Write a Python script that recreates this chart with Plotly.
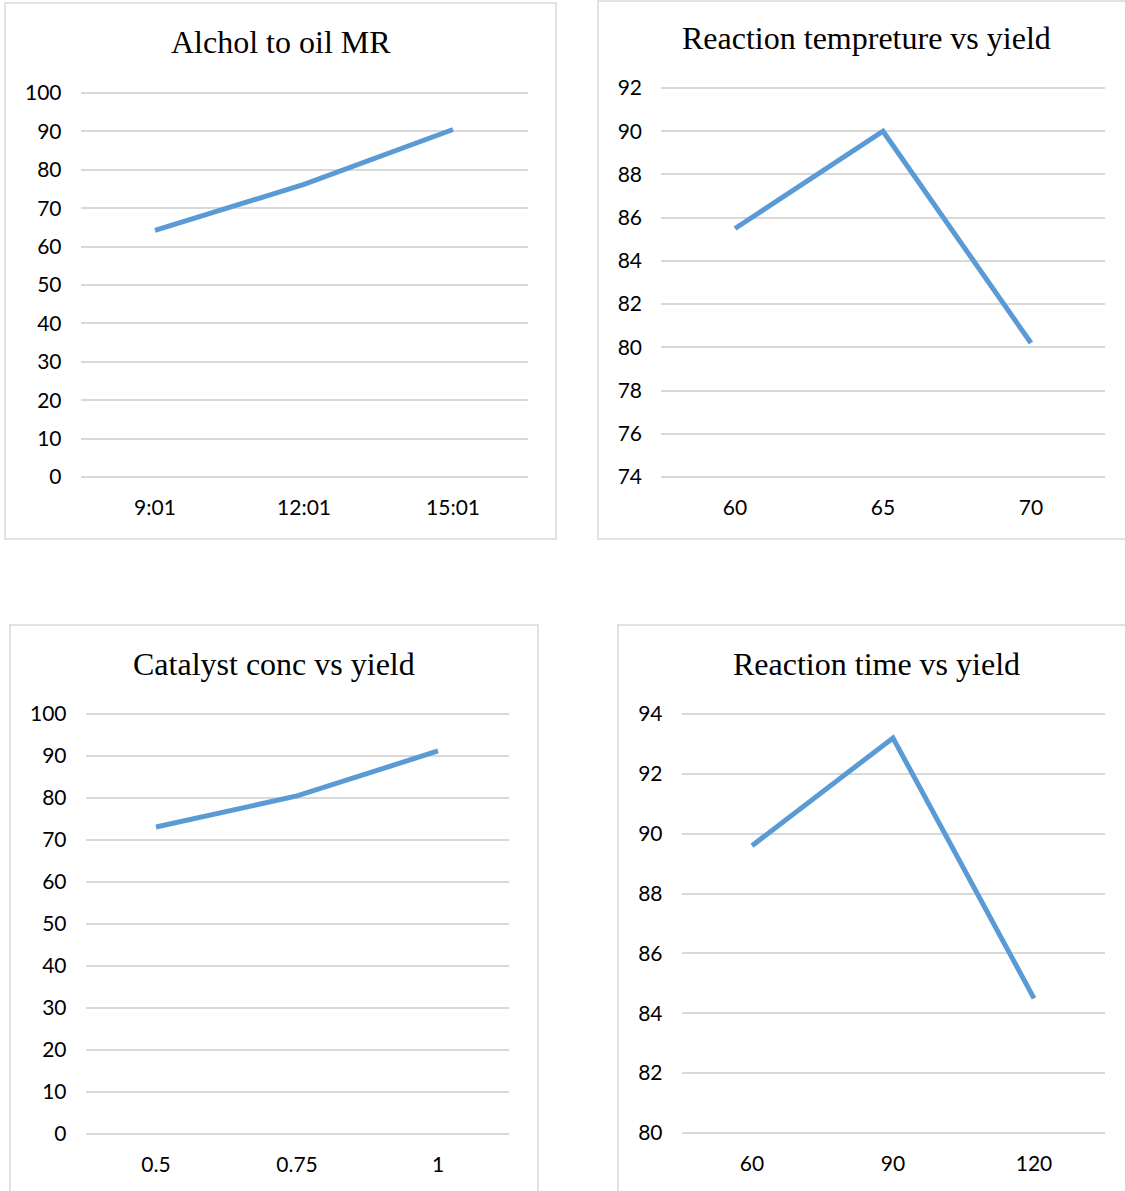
import plotly.graph_objects as go

W, H = 1125, 1191

# Chart data
mr_labels = ["9:01", "12:01", "15:01"]
mr_yield = [64.2, 76.2, 90.5]

temp_labels = ["60", "65", "70"]
temp_yield = [85.5, 90.0, 80.2]

cat_labels = ["0.5", "0.75", "1"]
cat_yield = [73.1, 80.5, 91.2]

time_labels = ["60", "90", "120"]
time_yield = [89.6, 93.2, 84.5]

titles = ["Alchol to oil MR", "Reaction tempreture vs yield",
          "Catalyst conc vs yield", "Reaction time vs yield"]

LINE = "#5b9bd5"
GRID = "#d9d9d9"
TICK_FONT = dict(family="Lato, Carlito, Calibri, sans-serif", size=21, color="#000000")
TITLE_FONT = dict(family="Liberation Serif, Times New Roman, serif", size=32, color="#000000")
PAD = 3  # px of headroom so the end gridlines are kept


def px_x(x):
    return x / W


def px_y(y):
    return 1 - y / H


# Plot-area pixel boxes: (left, right, top, bottom), y ranges, y steps
panels = [
    dict(labels=mr_labels, vals=mr_yield, box=(80.5, 527.5, 93, 477), yr=(0, 100), dt=10,
         frame=(5, 556, 3, 539), title_y=42, title_x=281),
    dict(labels=temp_labels, vals=temp_yield, box=(661, 1105, 88, 477), yr=(74, 92), dt=2,
         frame=(598, 1130, 1, 539), title_y=38, title_x=866),
    dict(labels=cat_labels, vals=cat_yield, box=(85.5, 508.5, 714, 1134), yr=(0, 100), dt=10,
         frame=(10, 538, 625, 1200), title_y=664, title_x=274),
    dict(labels=time_labels, vals=time_yield, box=(681.5, 1104.5, 714, 1133), yr=(80, 94), dt=2,
         frame=(618, 1130, 625, 1200), title_y=664, title_x=876),
]

fig = go.Figure()
layout = dict(
    width=W, height=H,
    margin=dict(l=0, r=0, t=0, b=0, autoexpand=False),
    paper_bgcolor="white", plot_bgcolor="white",
    showlegend=False,
    shapes=[], annotations=[],
)

for i, p in enumerate(panels):
    n = "" if i == 0 else str(i + 1)
    left, right, top, bottom = p["box"]
    y0, y1 = p["yr"]
    per_px = (y1 - y0) / (bottom - top)
    fig.add_trace(go.Scatter(
        x=list(range(len(p["labels"]))), y=p["vals"],
        mode="lines", line=dict(color=LINE, width=5),
        xaxis="x" + n, yaxis="y" + n, hoverinfo="skip",
    ))
    layout["xaxis" + n] = dict(
        domain=[px_x(left), px_x(right)],
        anchor="y" + n,
        range=[-0.5, len(p["labels"]) - 0.5],
        tickmode="array", tickvals=list(range(len(p["labels"]))), ticktext=p["labels"],
        showgrid=False, zeroline=False, showline=False, ticks="",
        tickfont=TICK_FONT, ticklabelstandoff=16 - PAD, fixedrange=True, automargin=False,
    )
    layout["yaxis" + n] = dict(
        domain=[px_y(bottom + PAD), px_y(top - PAD)],
        anchor="x" + n,
        range=[y0 - PAD * per_px, y1 + PAD * per_px], dtick=p["dt"], tick0=y0,
        showgrid=True, gridcolor=GRID, gridwidth=2,
        zeroline=False, showline=False, ticks="",
        tickfont=TICK_FONT, ticklabelstandoff=18, fixedrange=True, automargin=False,
    )
    fl, fr, ft, fb = p["frame"]
    layout["shapes"].append(dict(
        type="rect", xref="paper", yref="paper",
        x0=px_x(fl), x1=px_x(fr), y0=px_y(fb), y1=px_y(ft),
        line=dict(color=GRID, width=1.5), fillcolor="rgba(0,0,0,0)", layer="below",
    ))
    layout["annotations"].append(dict(
        text=titles[i], xref="paper", yref="paper",
        x=px_x(p["title_x"]), y=px_y(p["title_y"]),
        xanchor="center", yanchor="middle", showarrow=False, font=TITLE_FONT,
    ))

fig.update_layout(**layout)
fig.write_html("out.html")
